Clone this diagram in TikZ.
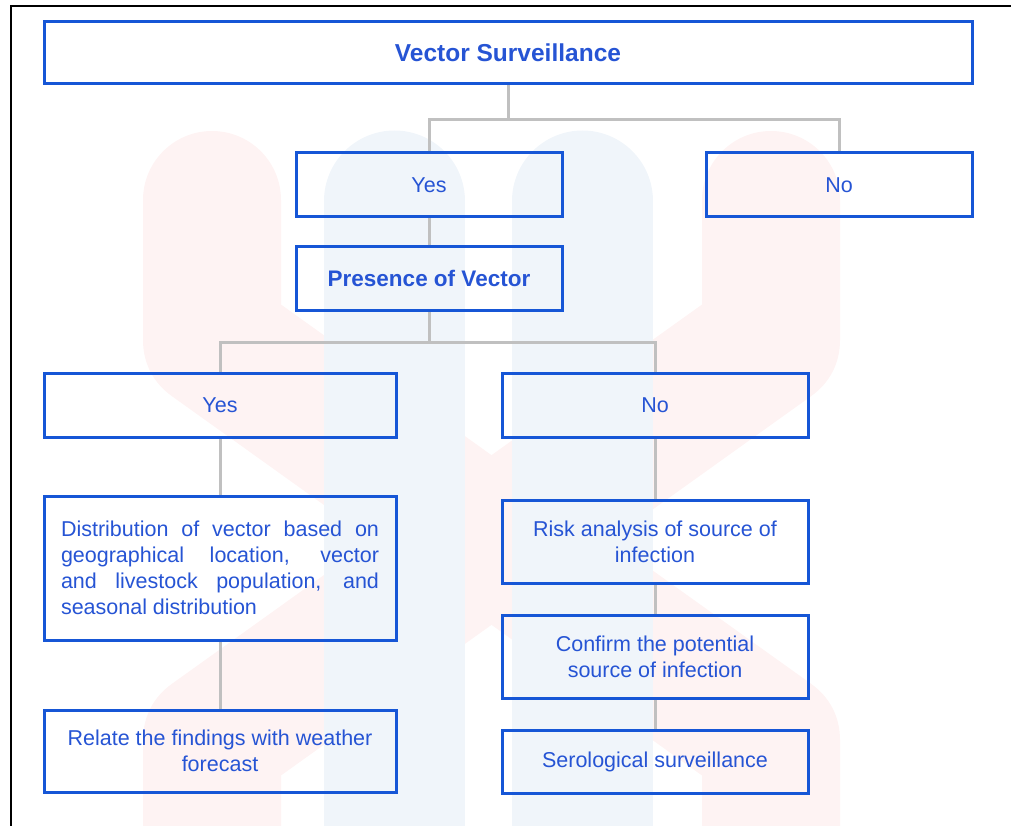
\documentclass[tikz,border=0pt]{standalone}
\usepackage{fontspec}
\setmainfont{Liberation Sans}
\usetikzlibrary{backgrounds}
\definecolor{boxblue}{RGB}{22,86,214}
\definecolor{textblue}{RGB}{38,84,212}
\definecolor{linkgray}{RGB}{192,192,192}
\definecolor{wmpink}{RGB}{254,243,243}
\definecolor{wmblue}{RGB}{240,245,250}
\tikzset{
  >=latex,
}
\tikzstyle{every node}=[font=\fontsize{21.5}{26}\selectfont,text=textblue]
\tikzstyle{box}=[draw=boxblue,line width=3pt,inner sep=0pt,align=center]
\tikzstyle{link}=[draw=linkgray,line width=3pt]
\tikzstyle{headtext}=[font=\fontsize{24.5}{28}\selectfont\bfseries]
\tikzstyle{boldtext}=[font=\fontsize{22.5}{26}\selectfont\bfseries]

\begin{document}
\begin{tikzpicture}[x=1pt,y=-1pt]
        \useasboundingbox (0,0) rectangle (1011,826);
        \draw[line width=2.5pt] (11,826)--(11,6)--(1011,6);
        % top level
        \node[box,headtext,minimum width=928pt,minimum height=62pt] (vs) at (508,53) {Vector Surveillance};
        \node[box,minimum width=266pt,minimum height=64pt] (yes1) at (429,185) {Yes};
        \node[box,minimum width=266pt,minimum height=64pt] (no1) at (839,185) {No};
        \node[box,boldtext,minimum width=266pt,minimum height=63pt] (pres) at (429,278.5) {Presence of Vector};
        % second level
        \node[box,minimum width=352pt,minimum height=64pt] (yes2) at (220,405) {Yes};
        \node[box,minimum width=306pt,minimum height=64pt] (no2) at (655,405) {No};
        \node[box,minimum width=352pt,minimum height=144pt,text width=318pt,align=justify] (dist) at (220,568)
        {Distribution of vector based on\linebreak geographical location, vector\linebreak and livestock population, and\linebreak seasonal distribution};
        \node[box,minimum width=352pt,minimum height=82pt] (relate) at (220,751) {Relate the findings with weather\\forecast};
        \node[box,minimum width=306pt,minimum height=83pt] (risk) at (655,541.5) {Risk analysis of source of\\infection};
        \node[box,minimum width=306pt,minimum height=83pt] (confirm) at (655,656.5) {Confirm the potential\\source of infection};
        \node[box,minimum width=306pt,minimum height=63pt] (sero) at (655,761.5) {Serological surveillance};
        \coordinate (j1) at (508,120);
        \coordinate (j2) at (429,342);
        \begin{pgfonlayer}{background}
          \draw[wmpink,line width=138pt,line cap=round,line join=round]
          (212,200)--(212,340)--(771,740)--(771,900);
          \draw[wmpink,line width=138pt,line cap=round,line join=round]
          (771,200)--(771,340)--(212,740)--(212,900);
          \draw[wmblue,line width=141pt,line cap=round] (394.5,201)--(394.5,900);
          \draw[wmblue,line width=141pt,line cap=round] (582.5,201)--(582.5,900);
          \draw[link] (vs.south)--(j1);
          \draw[link] (yes1.north) |- (j1) -| (no1.north);
          \draw[link] (yes1.south)--(pres.north);
          \draw[link] (pres.south)--(j2);
          \draw[link] (yes2.north) |- (j2) -| (no2.north);
          \draw[link] (yes2.south)--(dist.north);
          \draw[link] (dist.south)--(relate.north);
          \draw[link] (no2.south)--(risk.north);
          \draw[link] (risk.south)--(confirm.north);
          \draw[link] (confirm.south)--(sero.north);
        \end{pgfonlayer}
      \end{tikzpicture}
\end{document}
